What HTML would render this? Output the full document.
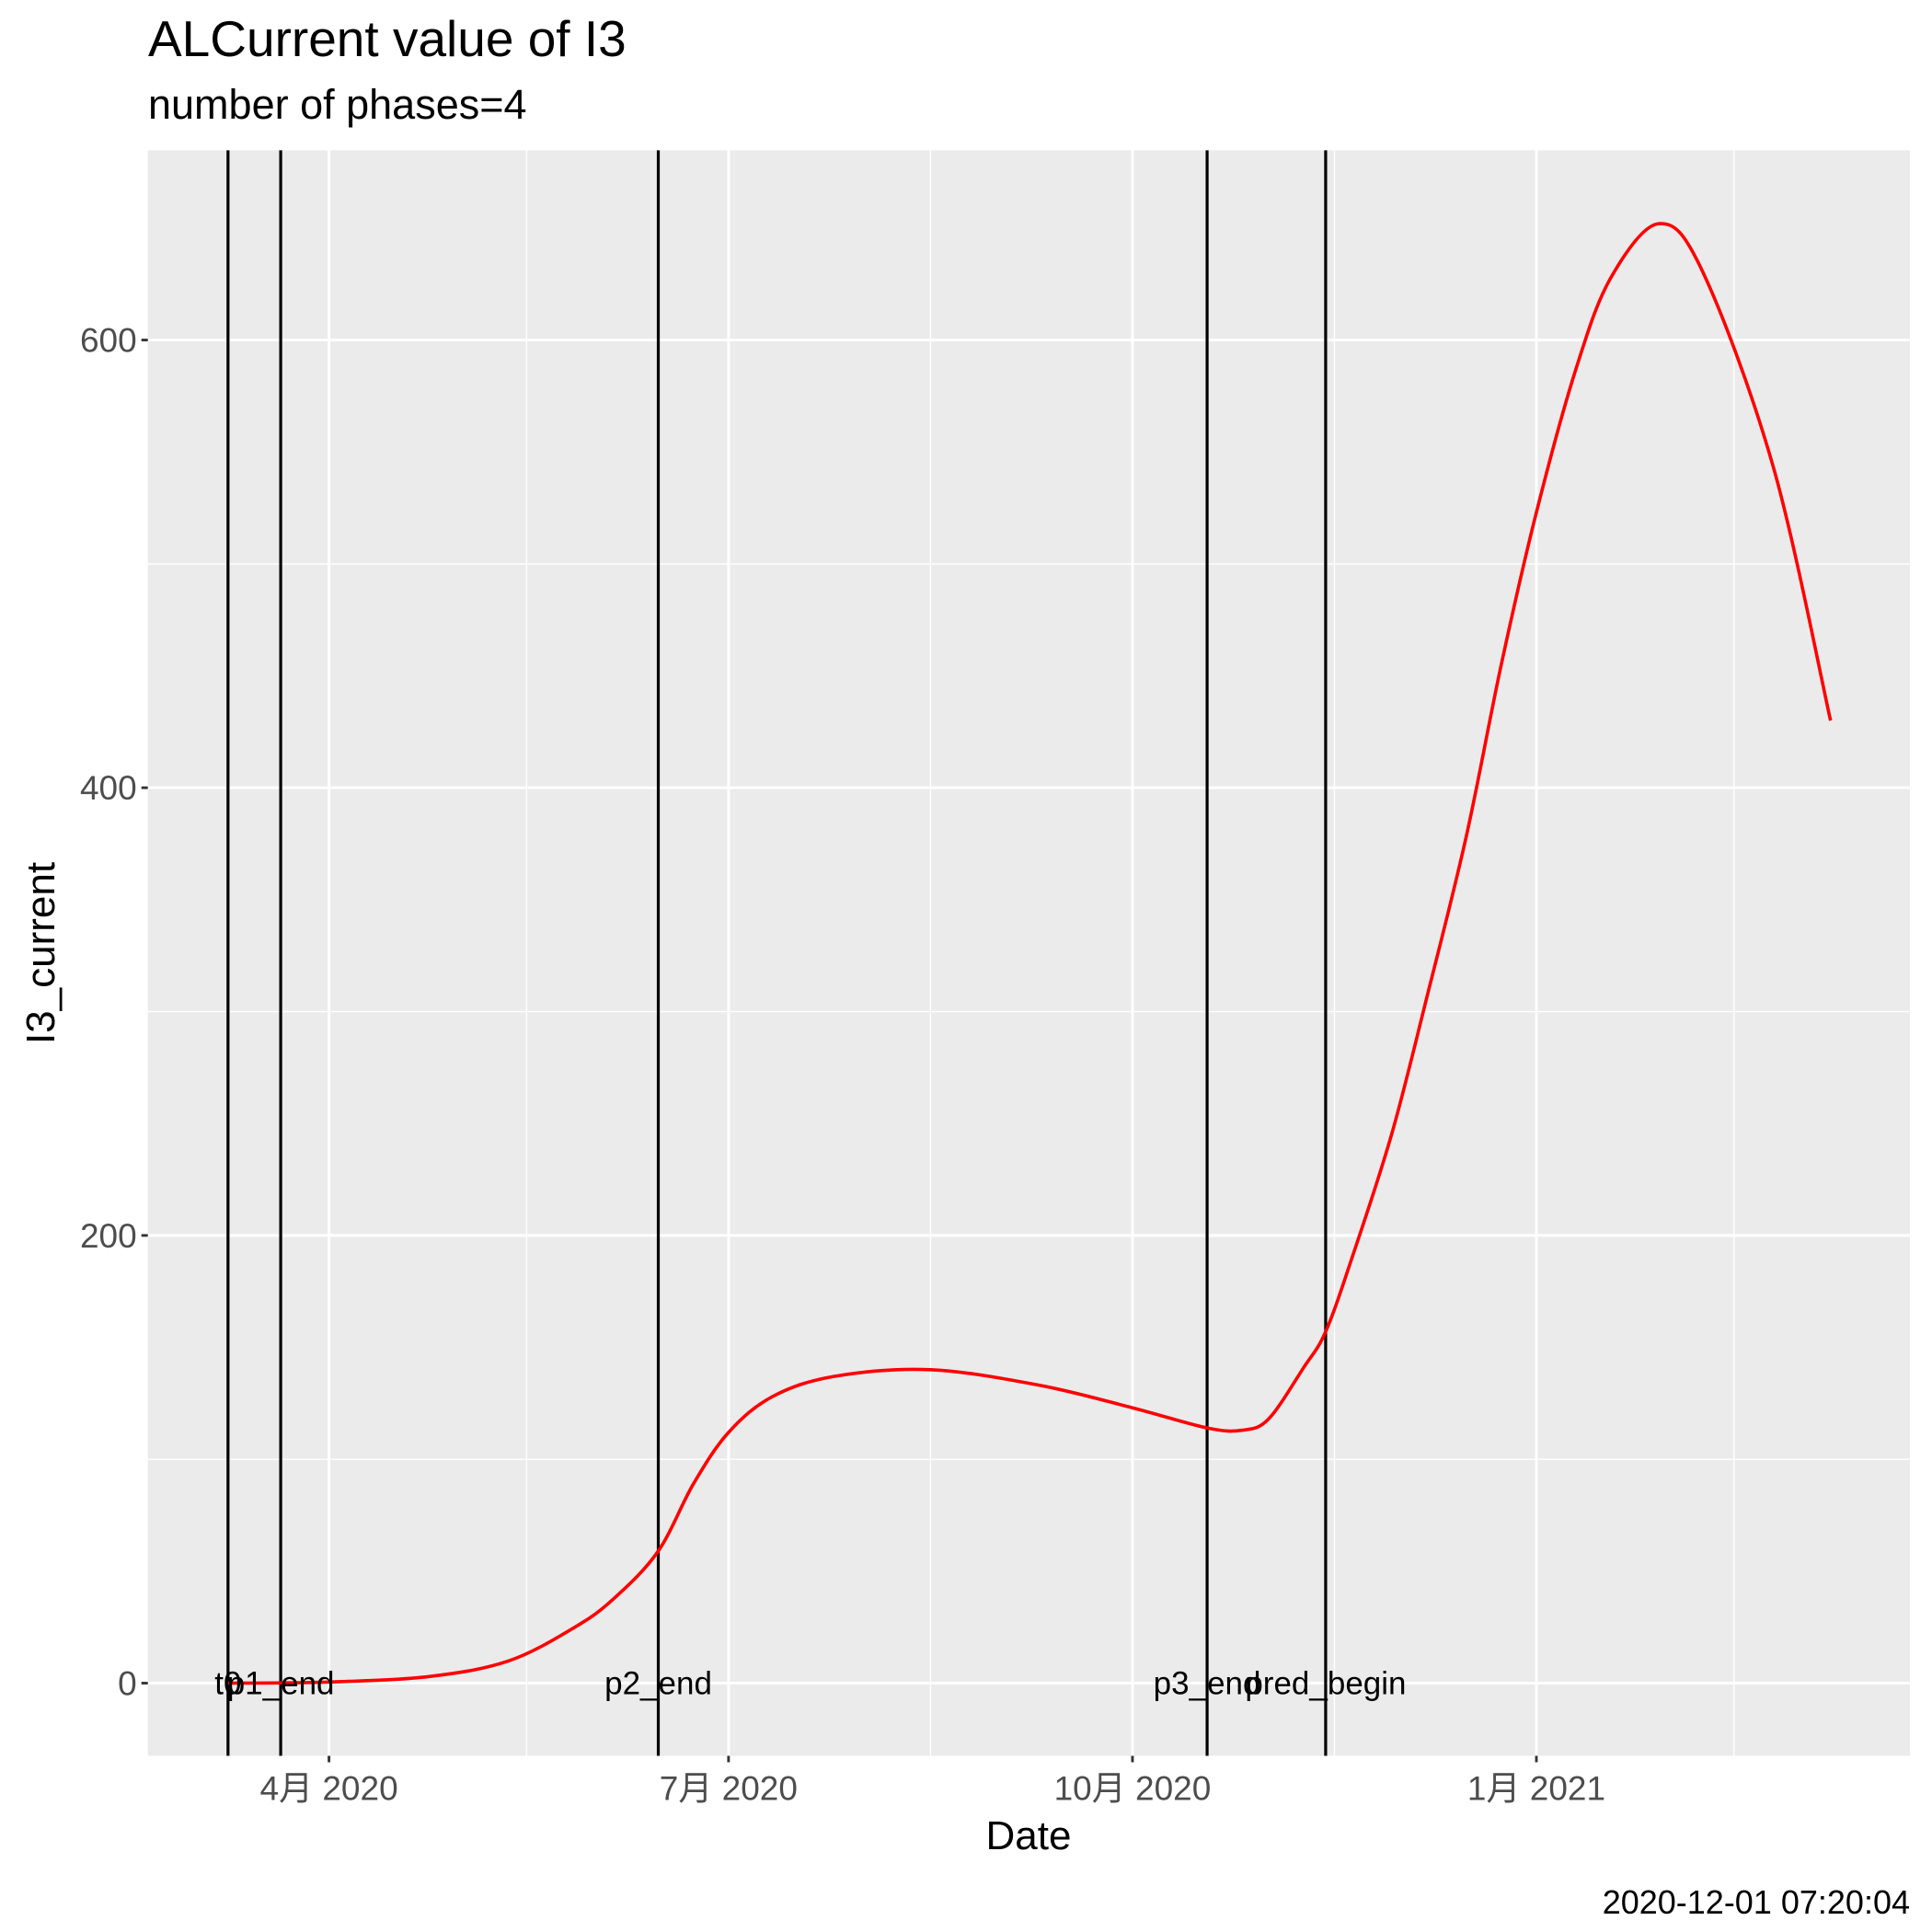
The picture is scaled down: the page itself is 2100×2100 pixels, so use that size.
<!DOCTYPE html>
<html><head><meta charset="utf-8"><style>
html,body{margin:0;padding:0;background:#fff;}
svg{display:block;font-family:"Liberation Sans","Noto Sans CJK SC",sans-serif;}
</style></head><body>
<svg id="chart" width="2100" height="2100" viewBox="0 0 2100 2100" xmlns="http://www.w3.org/2000/svg">
<text x="161" y="61" font-size="55">ALCurrent value of I3</text>
<text x="161" y="129" font-size="45">number of phases=4</text>
<rect x="160.7" y="163.4" width="1915.3" height="1745.1" fill="#ebebeb"/>
<g id="grid"></g>
<g id="vlines"></g>
<path id="curve" fill="none" stroke="#ff0000" stroke-width="3.6"/>
<g id="labels"></g>
<g id="axes"></g>
<text x="1118" y="2010" font-size="44" text-anchor="middle">Date</text>
<text transform="translate(59,1036) rotate(-90)" font-size="44" text-anchor="middle">I3_current</text>
<text x="2076" y="2080" font-size="36" text-anchor="end">2020-12-01 07:20:04</text>
</svg>
<script>
const dates = ["2020-03-09","2020-04-01","2020-04-24","2020-05-12","2020-05-27","2020-06-05","2020-06-15","2020-06-23","2020-07-01","2020-07-11","2020-07-25","2020-08-16","2020-09-10","2020-10-01","2020-10-18","2020-10-26","2020-11-01","2020-11-09","2020-11-14","2020-11-20","2020-11-29","2020-12-07","2020-12-16","2020-12-24","2021-01-01","2021-01-10","2021-01-18","2021-01-29","2021-02-08","2021-02-24","2021-03-09"];
const values = [0,0.5,3,10,25,38,59,89,112,128,137,140,133,123,114,113,118,141,157,190,245,306,378,455,523,587,628,652,630,543,430];
const phaseDates = ["2020-03-09","2020-03-21","2020-06-15","2020-10-18","2020-11-14"];
const phaseLabels = ["t0","p1_end","p2_end","p3_end","pred_begin"];
const xTickDates = ["2020-04-01","2020-07-01","2020-10-01","2021-01-01"];
const xTickLabels = ["4月 2020","7月 2020","10月 2020","1月 2021"];
const xMinorDates = ["2020-05-16","2020-08-16","2020-11-16","2021-02-15"];
const yTicks = [0,200,400,600];
const yMinor = [100,300,500];

const NS="http://www.w3.org/2000/svg";
const D0=Date.UTC(2020,3,1), D1=Date.UTC(2021,0,1);
function day(s){const p=s.split("-");return Date.UTC(+p[0],+p[1]-1,+p[2]);}
function xs(s){return 357.6+(day(s)-D0)/(D1-D0)*(1670-357.6);}
function ys(v){return 1829.5-(v/600)*(1829.5-369.6);}
const L=160.7,R=2076,T=163.4,B=1908.5;
function mk(tag,attrs,parent){const e=document.createElementNS(NS,tag);for(const k in attrs)e.setAttribute(k,attrs[k]);parent.appendChild(e);return e;}
const grid=document.getElementById('grid'),axes=document.getElementById('axes'),vl=document.getElementById('vlines'),lab=document.getElementById('labels');
yMinor.forEach(v=>{const e=mk('line',{x1:L,x2:R,y1:ys(v),y2:ys(v),stroke:'#fff','stroke-width':1.4},grid);

});
xMinorDates.forEach(d=>{const x=xs(d);if(x>R)return;const e=mk('line',{x1:x,x2:x,y1:T,y2:B,stroke:'#fff','stroke-width':1.4},grid);

});
yTicks.forEach(v=>{const y=ys(v);const e=mk('line',{x1:L,x2:R,y1:y,y2:y,stroke:'#fff','stroke-width':2.9},grid);


const t=mk('line',{x1:L-7,x2:L,y1:y,y2:y,stroke:'#333','stroke-width':2.9},axes);


const tx=mk('text',{x:L-12,y:y+13,'font-size':37,fill:'#4d4d4d','text-anchor':'end'},axes);tx.textContent=v;

});
xTickDates.forEach((d,i)=>{const x=xs(d);const e=mk('line',{x1:x,x2:x,y1:T,y2:B,stroke:'#fff','stroke-width':2.9},grid);


const t=mk('line',{x1:x,x2:x,y1:B,y2:B+7,stroke:'#333','stroke-width':2.9},axes);


const tx=mk('text',{x:x,y:B+48,'font-size':37,fill:'#4d4d4d','text-anchor':'middle'},axes);tx.textContent=xTickLabels[i];

});
phaseDates.forEach((d,i)=>{const x=xs(d);const e=mk('line',{x1:x,x2:x,y1:T,y2:B,stroke:'#000','stroke-width':3.2},vl);


const t=mk('text',{x:x,y:ys(0)+12,'font-size':35,fill:'#000','text-anchor':'middle'},lab);t.textContent=phaseLabels[i];

});
const pts=dates.map((d,i)=>[xs(d),ys(values[i])]);
let p="M"+pts[0][0]+","+pts[0][1];
for(let i=0;i<pts.length-1;i++){const p0=pts[Math.max(0,i-1)],p1=pts[i],p2=pts[i+1],p3=pts[Math.min(pts.length-1,i+2)];
const c1=[p1[0]+(p2[0]-p0[0])/6,p1[1]+(p2[1]-p0[1])/6],c2=[p2[0]-(p3[0]-p1[0])/6,p2[1]-(p3[1]-p1[1])/6];
p+=" C"+c1+" "+c2+" "+p2;}
document.getElementById('curve').setAttribute('d',p);
</script>
</body></html>
